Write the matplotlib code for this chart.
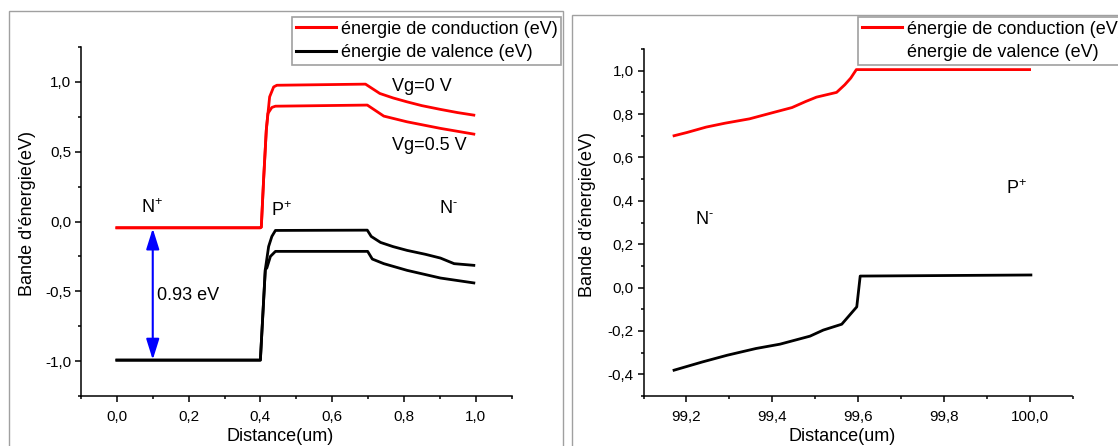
# Band diagrams: N+/P+/N- structure (left) and N-/P+ junction zoom (right)

import numpy as np
import matplotlib
matplotlib.use("Agg")
import matplotlib.pyplot as plt
from matplotlib.lines import Line2D
from matplotlib.patches import Rectangle
from matplotlib.ticker import MultipleLocator, FuncFormatter

plt.rcParams["font.family"] = ["Liberation Sans", "DejaVu Sans"]
plt.rcParams["mathtext.fontset"] = "custom"
plt.rcParams["mathtext.rm"] = "Liberation Sans"
plt.rcParams["mathtext.default"] = "regular"

# ---- left panel: full structure, Vg = 0 V and Vg = 0.5 V ----
cond0_x = [0.0, 0.40, 0.4026, 0.409, 0.4165, 0.4258, 0.437, 0.446, 0.693, 0.733, 0.77, 0.809, 0.85, 0.902, 0.95, 0.995]
cond0_y = [-0.045, -0.045, -0.04, 0.30, 0.655, 0.893, 0.964, 0.976, 0.984, 0.917, 0.885, 0.857, 0.83, 0.803, 0.78, 0.762]

cond05_x = [0.0, 0.40, 0.4026, 0.409, 0.4165, 0.421, 0.432, 0.442, 0.698, 0.744, 0.809, 0.902, 0.995]
cond05_y = [-0.045, -0.045, -0.04, 0.30, 0.655, 0.774, 0.817, 0.826, 0.834, 0.755, 0.714, 0.667, 0.626]

val0_x = [0.0, 0.40, 0.4137, 0.423, 0.432, 0.442, 0.698, 0.709, 0.735, 0.77, 0.809, 0.86, 0.902, 0.94, 0.995]
val0_y = [-0.993, -0.993, -0.345, -0.179, -0.107, -0.064, -0.062, -0.107, -0.15, -0.18, -0.207, -0.235, -0.262, -0.302, -0.314]

val05_x = [0.0, 0.40, 0.4137, 0.418, 0.428, 0.442, 0.699, 0.712, 0.744, 0.809, 0.902, 0.995]
val05_y = [-0.993, -0.993, -0.345, -0.333, -0.25, -0.214, -0.214, -0.269, -0.302, -0.35, -0.405, -0.44]

gap_x = 0.1
gap_top, gap_bottom = -0.05, -0.99

# ---- right panel: N-/P+ junction near the end of the device ----
condr_x = [99.171, 99.201, 99.246, 99.29, 99.347, 99.40, 99.446, 99.478, 99.503, 99.55, 99.569, 99.583, 99.596, 100.0]
condr_y = [0.70, 0.715, 0.74, 0.758, 0.778, 0.806, 0.83, 0.858, 0.878, 0.90, 0.935, 0.966, 1.005, 1.005]

valr_x = [99.171, 99.237, 99.295, 99.362, 99.418, 99.488, 99.519, 99.562, 99.597, 99.605, 100.003]
valr_y = [-0.381, -0.343, -0.312, -0.281, -0.261, -0.224, -0.196, -0.169, -0.089, 0.053, 0.058]

LABEL_COND = "énergie de conduction (eV)"
LABEL_VAL = "énergie de valence (eV)"

W, H = 1118, 446
FS = 13
FRAME = "#a0a0a0"
N_PLUS = "N$^{+}$"
P_PLUS = "P$^{+}$"
N_MINUS = r"N$^{\text{-}}$"


def comma_fmt(v, pos):
    return f"{v:.1f}".replace(".", ",")


def style_axes(ax, xmaj, xmin, ymaj, ymin):
    for side in ("top", "right"):
        ax.spines[side].set_visible(False)
    for side in ("left", "bottom"):
        ax.spines[side].set_linewidth(1.1)
    ax.xaxis.set_major_locator(MultipleLocator(xmaj))
    ax.xaxis.set_minor_locator(MultipleLocator(xmin))
    ax.yaxis.set_major_locator(MultipleLocator(ymaj))
    ax.yaxis.set_minor_locator(MultipleLocator(ymin))
    ax.xaxis.set_major_formatter(FuncFormatter(comma_fmt))
    ax.yaxis.set_major_formatter(FuncFormatter(comma_fmt))
    ax.tick_params(which="major", direction="out", length=4, width=1.1, labelsize=11, pad=3)
    ax.tick_params(axis="x", which="major", pad=6)
    ax.tick_params(which="minor", direction="out", length=2.5, width=1.1)
    ax.set_xlabel("Distance(um)", fontsize=FS)
    ax.set_ylabel("Bande d'énergie(eV)", fontsize=FS)


def px_axes(fig, x0, x1, top, bottom):
    return fig.add_axes([x0 / W, 1 - bottom / H, (x1 - x0) / W, (bottom - top) / H])


fig = plt.figure(figsize=(W / 100, H / 100), dpi=100)

# grey window frames
fig.add_artist(Rectangle((8.6 / W, -0.1), (563 - 8.6) / W, 1.1 - 11.3 / H,
                         transform=fig.transFigure, fill=False, edgecolor=FRAME, lw=1.0))
fig.add_artist(Rectangle((571.7 / W, -0.1), 0.6, 1.1 - 14.7 / H,
                         transform=fig.transFigure, fill=False, edgecolor=FRAME, lw=1.0))

# ---- left ----
ax1 = px_axes(fig, 81, 511.5, 47, 396)
ax1.plot(cond0_x, cond0_y, color="red", lw=2.0)
ax1.plot(cond05_x, cond05_y, color="red", lw=2.0)
ax1.plot(val0_x, val0_y, color="black", lw=2.0)
ax1.plot(val05_x, val05_y, color="black", lw=2.0)
ax1.set_xlim(-0.1, 1.1)
ax1.set_ylim(-1.25, 1.25)
style_axes(ax1, 0.2, 0.1, 0.5, 0.25)
ax1.xaxis.set_label_coords(0.462, -0.092)
ax1.yaxis.set_label_coords(-0.105, 0.524)

ax1.annotate("", xy=(gap_x, gap_bottom), xytext=(gap_x, gap_top),
             arrowprops=dict(arrowstyle="<|-|>,head_length=0.7,head_width=0.22",
                             color="blue", lw=1.5, mutation_scale=18,
                             shrinkA=0, shrinkB=0))
ax1.text(0.112, -0.53, "0.93 eV", fontsize=FS, va="center")
ax1.text(0.068, 0.10, N_PLUS, fontsize=FS, va="center")
ax1.text(0.429, 0.08, P_PLUS, fontsize=FS, va="center")
ax1.text(0.897, 0.09, N_MINUS, fontsize=FS, va="center")
ax1.text(0.767, 0.964, "Vg=0 V", fontsize=FS, va="center")
ax1.text(0.767, 0.542, "Vg=0.5 V", fontsize=FS, va="center")

leg_kw = dict(fontsize=FS, loc="upper left", bbox_transform=fig.transFigure,
              fancybox=False, framealpha=1, edgecolor=FRAME, borderpad=0.2,
              labelspacing=0.35, handlelength=2.25, handletextpad=0.25, borderaxespad=0)
h_cond = Line2D([], [], color="red", lw=2.2)
h_val = Line2D([], [], color="black", lw=2.2)
leg1 = ax1.legend([h_cond, h_val], [LABEL_COND, LABEL_VAL],
                  bbox_to_anchor=(292 / W, 1 - 17 / H), **leg_kw)
leg1.get_frame().set_linewidth(1.2)

# ---- right ----
ax2 = px_axes(fig, 643.6, 1072.5, 49, 396)
ax2.plot(condr_x, condr_y, color="red", lw=2.0)
ax2.plot(valr_x, valr_y, color="black", lw=2.0)
ax2.set_xlim(99.1, 100.1)
ax2.set_ylim(-0.5, 1.1)
style_axes(ax2, 0.2, 0.1, 0.2, 0.1)
ax2.xaxis.set_label_coords(0.462, -0.092)
ax2.yaxis.set_label_coords(-0.112, 0.524)

ax2.text(99.22, 0.312, N_MINUS, fontsize=FS, va="center")
ax2.text(99.946, 0.455, P_PLUS, fontsize=FS, va="center")

h_val_none = Line2D([], [], color="none")
leg2 = ax2.legend([h_cond, h_val_none], [LABEL_COND, LABEL_VAL],
                  bbox_to_anchor=(858 / W, 1 - 17 / H), **leg_kw)
leg2.get_frame().set_linewidth(1.2)

fig.savefig("out.png", dpi=100)
plt.close(fig)
